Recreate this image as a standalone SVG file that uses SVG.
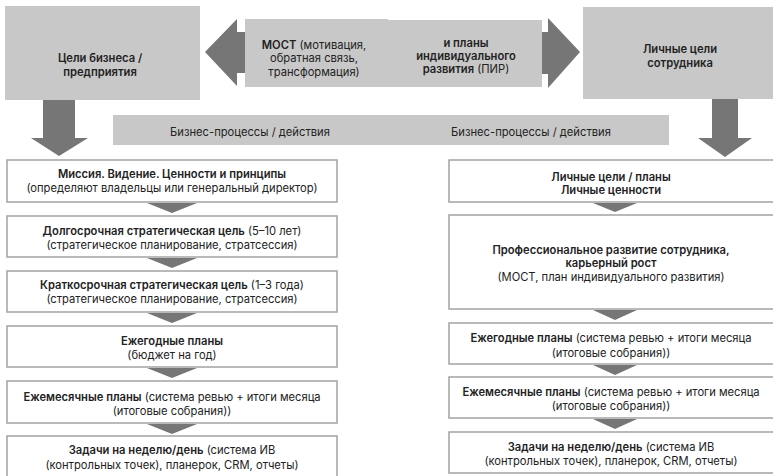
<svg xmlns="http://www.w3.org/2000/svg" width="773" height="476" viewBox="0 0 773 476">
<style>
.g{fill:#c8c8c8}
.a{fill:#767676}
.b{fill:#fff;stroke:#a3a3a3;stroke-width:1.5}
text{font-family:Inter,"Noto Sans",sans-serif;font-size:11.2px;fill:#222;text-anchor:middle}
.bd{font-weight:600}
</style>
<rect width="773" height="476" fill="#fff"/>
<g id="connectors">
<polygon class="a" points="205,52 237,19 237,32 246,32 246,73 237,73 237,86"/>
<polygon class="a" points="580,52 548,18 548,32 541,32 541,74 548,74 548,88"/>
<polygon class="a" points="43,99 75,99 75,138 88,138 59,156 31,138 43,138"/>
<polygon class="a" points="712,98 738,98 738,138 752,138 725,157 698,138 712,138"/>
<polygon class="a" points="147,203 197,203 172,213"/>
<polygon class="a" points="147,258 197,258 172,268"/>
<polygon class="a" points="147,313 197,313 172,323"/>
<polygon class="a" points="147,368 197,368 172,378"/>
<polygon class="a" points="147,424 197,424 172,434"/>
<polygon class="a" points="593,203 637,203 615,212"/>
<polygon class="a" points="593,310 637,310 615,320"/>
<polygon class="a" points="593,365 637,365 615,375"/>
<polygon class="a" points="593,419 637,419 615,429"/>
</g>
<g id="business-goals">
<rect class="g" x="5" y="6" width="195" height="94"/>
<text class="bd" x="100" y="62">Цели бизнеса /</text>
<text class="bd" x="100" y="76">предприятия</text>
</g>
<g id="most">
<rect class="g" x="245" y="19" width="143" height="68"/>
<text x="314" y="49"><tspan class="bd">МОСТ</tspan> (мотивация,</text>
<text x="314" y="62">обратная связь,</text>
<text x="314" y="76">трансформация)</text>
</g>
<g id="pir">
<rect class="g" x="388" y="20" width="154" height="67"/>
<text class="bd" x="466" y="47">и планы</text>
<text class="bd" x="466" y="60">индивидуального</text>
<text x="466" y="73"><tspan class="bd">развития</tspan> (ПИР)</text>
</g>
<g id="personal-goals">
<rect class="g" x="583" y="7" width="195" height="92"/>
<text class="bd" x="680" y="53">Личные цели</text>
<text class="bd" x="680" y="67">сотрудника</text>
</g>
<g id="processes">
<rect class="g" x="113" y="115" width="556" height="30"/>
<text x="250" y="136">Бизнес-процессы / действия</text>
<text x="531" y="136">Бизнес-процессы / действия</text>
</g>
<g id="mission">
<rect class="b" x="7" y="160" width="330" height="42"/>
<text class="bd" x="172" y="178">Миссия. Видение. Ценности и принципы</text>
<text x="172" y="192">(определяют владельцы или генеральный директор)</text>
</g>
<g id="long-term">
<rect class="b" x="7" y="216" width="330" height="41"/>
<text x="172" y="235"><tspan class="bd">Долгосрочная стратегическая цель</tspan> (5–10 лет)</text>
<text x="172" y="249">(стратегическое планирование, стратсессия)</text>
</g>
<g id="short-term">
<rect class="b" x="7" y="271" width="330" height="41"/>
<text x="172" y="289"><tspan class="bd">Краткосрочная стратегическая цель</tspan> (1–3 года)</text>
<text x="172" y="303">(стратегическое планирование, стратсессия)</text>
</g>
<g id="annual-left">
<rect class="b" x="7" y="326" width="330" height="41"/>
<text class="bd" x="172" y="345">Ежегодные планы</text>
<text x="172" y="359">(бюджет на год)</text>
</g>
<g id="monthly-left">
<rect class="b" x="7" y="381" width="330" height="42"/>
<text x="172" y="401"><tspan class="bd">Ежемесячные планы</tspan> (система ревью + итоги месяца</text>
<text x="172" y="415">(итоговые собрания))</text>
</g>
<g id="tasks-left">
<rect class="b" x="7" y="436" width="330" height="50"/>
<text x="172" y="454"><tspan class="bd">Задачи на неделю/день</tspan> (система ИВ</text>
<text x="172" y="469">(контрольных точек), планерок, CRM, отчеты)</text>
</g>
<g id="personal-values">
<rect class="b" x="449" y="160" width="335" height="42"/>
<text class="bd" x="611" y="181">Личные цели / планы</text>
<text class="bd" x="611" y="194">Личные ценности</text>
</g>
<g id="development">
<rect class="b" x="449" y="215" width="335" height="94"/>
<text class="bd" x="611" y="254">Профессиональное развитие сотрудника,</text>
<text class="bd" x="611" y="267">карьерный рост</text>
<text x="611" y="281">(МОСТ, план индивидуального развития)</text>
</g>
<g id="annual-right">
<rect class="b" x="449" y="323" width="335" height="41"/>
<text x="611" y="342"><tspan class="bd">Ежегодные планы</tspan> (система ревью + итоги месяца</text>
<text x="611" y="357">(итоговые собрания))</text>
</g>
<g id="monthly-right">
<rect class="b" x="449" y="377" width="335" height="41"/>
<text x="611" y="396"><tspan class="bd">Ежемесячные планы</tspan> (система ревью + итоги месяца</text>
<text x="611" y="410">(итоговые собрания))</text>
</g>
<g id="tasks-right">
<rect class="b" x="449" y="432" width="335" height="41"/>
<text x="611" y="451"><tspan class="bd">Задачи на неделю/день</tspan> (система ИВ</text>
<text x="611" y="465">(контрольных точек), планерок, CRM, отчеты)</text>
</g>
</svg>
